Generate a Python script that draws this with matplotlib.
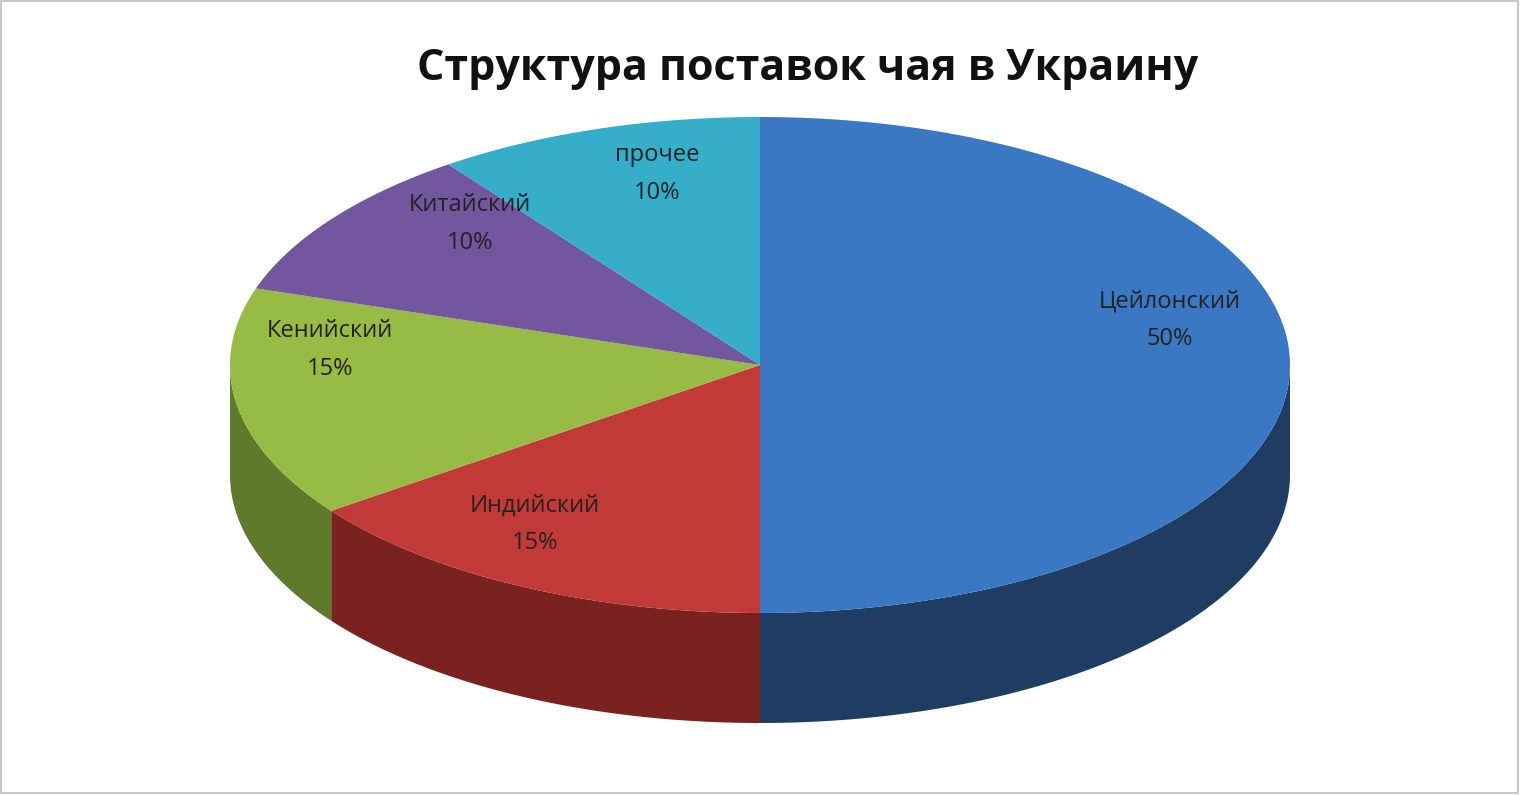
import numpy as np
import matplotlib
matplotlib.use("Agg")
import matplotlib.pyplot as plt
from matplotlib.patches import Rectangle

labels = ["Цейлонский", "Индийский", "Кенийский", "Китайский", "прочее"]
values = [50, 15, 15, 10, 10]
top_colors = ["#3b78c3", "#c23a37", "#98bb45", "#72569e", "#36adc9"]
side_colors = ["#1f3d63", "#7a2220", "#5e7a2a", "#47366a", "#1f6b7d"]
label_pos = [(1170, 320), (535, 524), (330, 350), (470, 224), (657, 174)]

cx, cy, rx, ry, depth = 760, 365, 530, 248, 110

fig = plt.figure(figsize=(15.2, 7.95), dpi=100)
ax = fig.add_axes([0, 0, 1, 1])
ax.set_xlim(0, 1520)
ax.set_ylim(795, 0)
ax.axis("off")
ax.add_patch(Rectangle((1, 1), 1517, 792, fill=False, edgecolor="#c8c8c8", lw=1.5))

# angles: start at 90 deg, go clockwise
fracs = np.array(values) / sum(values)
ends = 90 - 360 * np.cumsum(fracs)
starts = np.concatenate([[90], ends[:-1]])

def pt(theta_deg, dy=0):
    t = np.radians(theta_deg)
    return cx + rx * np.cos(t), cy - ry * np.sin(t) + dy

# sides (visible front half: angles -180..0)
for s, e, c in zip(starts, ends, side_colors):
    for shift in (0, -360, 360):
        a, b = max(e + shift, -180), min(s + shift, 0)
        if a < b:
            th = np.linspace(a, b, 100)
            xt, yt = pt(th)
            xb, yb = pt(th[::-1], depth)
            ax.fill(np.concatenate([xt, xb]), np.concatenate([yt, yb]),
                    color=c, lw=0)

# top faces
for s, e, c in zip(starts, ends, top_colors):
    th = np.linspace(s, e, 200)
    x, y = pt(th)
    ax.fill(np.concatenate([[cx], x]), np.concatenate([[cy], y]), color=c, lw=0)

for lab, v, (x, y) in zip(labels, values, label_pos):
    ax.text(x, y, f"{lab}\n{v}%", ha="center", va="center", fontsize=17,
            family="Open Sans", color="#222222", linespacing=1.75)

ax.text(808, 68, "Структура поставок чая в Украину", ha="center", va="center",
        fontsize=31, fontweight="bold", family="Open Sans", color="#111111")

fig.savefig("out.png", dpi=100)
